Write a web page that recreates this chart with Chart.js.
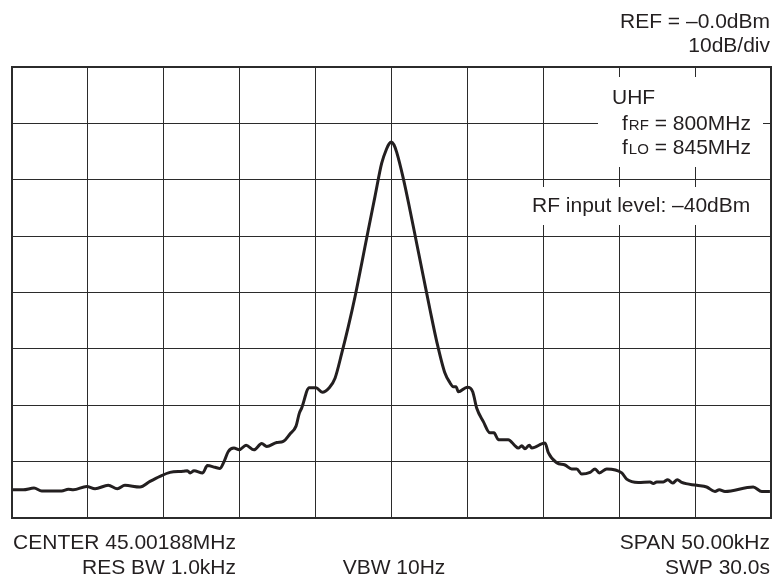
<!DOCTYPE html>
<html>
<head>
<meta charset="utf-8">
<script src="https://cdn.jsdelivr.net/npm/chart.js@4"></script>
<style>
  body { margin: 0; background: #fff; }
  canvas { display: block; }
</style>
</head>
<body>
<canvas id="spectrum" width="775" height="579"></canvas>
<script>
// offset from center frequency (kHz) and measured level (dBm)
const freqOffset = [
  -24.95, -24.26, -23.55, -23.04, -21.73, -21.29, -20.96, -20.08, -19.53, -18.66,
  -18.06, -17.56, -16.57, -15.91, -15.25, -14.59, -13.72, -13.45, -13.27, -13.01,
  -12.44, -12.13, -11.63, -11.30, -11.03, -10.75, -10.38, -10.03, -9.58, -9.06,
  -8.55, -8.22, -7.56, -7.13, -6.69, -6.29, -6.07, -5.92, -5.42, -4.97,
  -4.56, -4.10, -3.72, -3.28, -2.85, -2.40, -1.96, -1.53, -1.09, -0.65,
  -0.32, -0.15, 0.00, 0.16, 0.34, 0.78, 1.22, 1.66, 2.10, 2.54,
  2.98, 3.52, 3.85, 4.07, 4.25, 4.40, 4.99, 5.35, 5.61, 6.05,
  6.49, 6.75, 7.04, 7.69, 8.14, 8.35, 8.58, 8.79, 9.08, 9.24,
  10.11, 10.33, 10.88, 11.43, 11.87, 12.20, 12.53, 13.08, 13.41, 13.69,
  14.18, 15.17, 15.49, 16.26, 17.03, 17.25, 17.47, 17.91, 18.20, 18.52,
  18.83, 19.12, 20.11, 20.76, 21.31, 21.59, 21.97, 23.83, 24.39, 24.93
];
const levelDbm = [
  -75.0, -75.0, -74.7, -75.2, -75.2, -74.9, -75.0, -74.4, -74.8, -74.2,
  -74.8, -74.2, -74.5, -73.5, -72.6, -71.9, -71.7, -71.6, -72.0, -71.6,
  -72.0, -70.7, -71.0, -71.2, -70.0, -68.2, -67.6, -67.9, -67.1, -67.9,
  -66.8, -67.3, -66.6, -66.4, -65.1, -63.7, -61.4, -60.5, -56.9, -56.9,
  -57.7, -56.9, -55.2, -50.8, -46.1, -40.7, -34.8, -28.9, -23.0, -17.1,
  -14.5, -13.6, -13.3, -13.8, -15.1, -19.8, -25.4, -31.3, -37.2, -43.1,
  -48.7, -54.3, -56.0, -56.7, -56.7, -57.6, -56.8, -57.6, -60.5, -62.9,
  -64.9, -64.9, -66.1, -66.1, -67.2, -67.6, -67.2, -67.7, -67.1, -67.6,
  -66.7, -68.4, -70.2, -70.6, -71.3, -71.3, -72.2, -71.9, -71.3, -72.0,
  -71.3, -72.0, -73.1, -73.7, -73.6, -73.9, -73.6, -73.6, -73.2, -73.8,
  -73.2, -73.7, -74.2, -74.5, -75.3, -75.0, -75.3, -74.5, -75.3, -75.3
];

const xMin = -25, xMax = 25, xStep = 5;
const yMin = -80, yMax = 0, yStep = 10;

const FONT = '21px "Liberation Sans", Arial, sans-serif';
const SMALL = '15px "Liberation Sans", Arial, sans-serif';
const INK = '#231f20';

const frameAndLabels = {
  id: 'frameAndLabels',
  beforeDatasetsDraw(chart) {
    const { ctx, chartArea: a } = chart;
    ctx.save();
    // blank out the grid behind the annotation text
    ctx.fillStyle = '#fff';
    ctx.fillRect(a.left + 586, a.top + 10, 165, 90);
    ctx.fillRect(a.left + 518, a.top + 120, a.right - a.left - 518, 38);
    // outer frame
    ctx.strokeStyle = '#2b2b2b';
    ctx.lineWidth = 2;
    ctx.strokeRect(a.left, a.top, a.right - a.left, a.bottom - a.top);
    ctx.restore();
  },
  afterDraw(chart) {
    const { ctx } = chart;
    ctx.save();
    ctx.fillStyle = INK;
    ctx.textBaseline = 'alphabetic';
    ctx.font = FONT;

    ctx.textAlign = 'right';
    ctx.fillText('REF = \u20130.0dBm', 770, 28);
    ctx.fillText('10dB/div', 770, 52);
    ctx.fillText('SPAN 50.00kHz', 770, 549);
    ctx.fillText('SWP 30.0s', 770, 574);
    ctx.fillText('CENTER 45.00188MHz', 236, 549);
    ctx.fillText('RES BW 1.0kHz', 236, 574);

    ctx.textAlign = 'center';
    ctx.fillText('VBW 10Hz', 394, 574);

    ctx.textAlign = 'left';
    ctx.fillText('UHF', 612, 104);
    ctx.fillText('RF input level: \u201340dBm', 532, 211.5);

    const sub = (x, y, sym, rest) => {
      ctx.font = FONT;
      ctx.fillText('f', x, y);
      x += ctx.measureText('f').width + 1;
      ctx.font = SMALL;
      ctx.fillText(sym, x, y);
      x += ctx.measureText(sym).width;
      ctx.font = FONT;
      ctx.fillText(rest, x, y);
    };
    sub(622, 130, 'RF', ' = 800MHz');
    sub(622, 154, 'LO', ' = 845MHz');
    ctx.restore();
  }
};

const points = freqOffset.map((f, i) => ({ x: f, y: levelDbm[i] }));

new Chart(document.getElementById('spectrum'), {
  type: 'scatter',
  data: {
    datasets: [{
      data: points,
      showLine: true,
      borderColor: INK,
      borderWidth: 3,
      pointRadius: 0,
      cubicInterpolationMode: 'monotone',
      borderJoinStyle: 'round'
    }]
  },
  options: {
    responsive: false,
    animation: false,
    devicePixelRatio: 1,
    layout: { padding: { left: 12, right: 4, top: 67, bottom: 61 } },
    plugins: { legend: { display: false }, tooltip: { enabled: false } },
    scales: {
      x: {
        type: 'linear', min: xMin, max: xMax,
        ticks: { stepSize: xStep, display: false },
        grid: { color: '#2b2b2b', lineWidth: 1, drawTicks: false },
        border: { display: false }
      },
      y: {
        min: yMin, max: yMax,
        ticks: { stepSize: yStep, display: false },
        grid: { color: '#2b2b2b', lineWidth: 1, drawTicks: false },
        border: { display: false }
      }
    }
  },
  plugins: [frameAndLabels]
});
</script>
</body>
</html>
